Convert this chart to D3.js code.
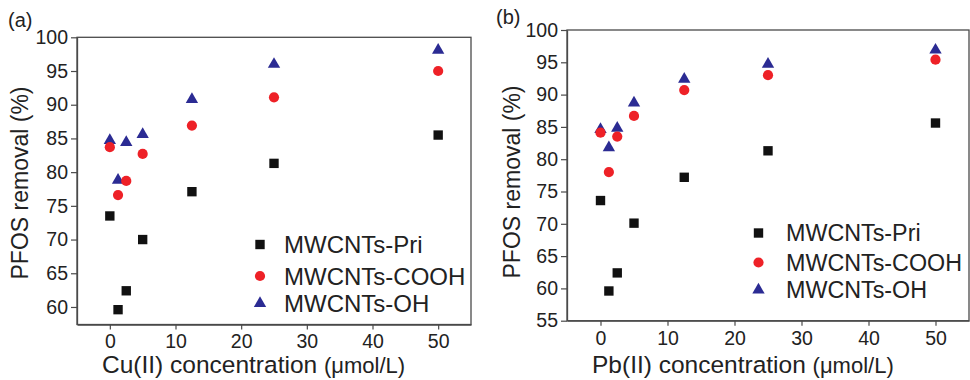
<!DOCTYPE html>
<html>
<head>
<meta charset="utf-8">
<script src="https://cdn.jsdelivr.net/npm/d3@7"></script>
<style>
  html, body { margin: 0; padding: 0; background: #fff; }
  svg { display: block; font-family: "Liberation Sans", Arial, sans-serif; }
</style>
</head>
<body>
<svg id="chart" width="970" height="380"></svg>
<script>
// ---- data ----
const concentrations = [0, 1.25, 2.5, 5, 12.5, 25, 50];
const seriesNames = ["MWCNTs-Pri", "MWCNTs-COOH", "MWCNTs-OH"];

const cuPri  = [73.5, 59.6, 62.4, 70.0, 77.1, 81.3, 85.5];
const cuCOOH = [83.7, 76.6, 78.7, 82.7, 86.9, 91.1, 95.0];
const cuOH   = [84.7, 78.8, 84.4, 85.6, 90.8, 96.0, 98.1];

const pbPri  = [73.6, 59.6, 62.4, 70.1, 77.2, 81.3, 85.6];
const pbCOOH = [84.1, 78.0, 83.5, 86.7, 90.7, 93.0, 95.4];
const pbOH   = [84.6, 81.8, 84.8, 88.7, 92.4, 94.7, 96.9];

const xTicks  = [0, 10, 20, 30, 40, 50];
const yTicksA = [60, 65, 70, 75, 80, 85, 90, 95, 100];
const yTicksB = [55, 60, 65, 70, 75, 80, 85, 90, 95, 100];

// ---- styles ----
const colors = { "MWCNTs-Pri": "#111111", "MWCNTs-COOH": "#ee2127", "MWCNTs-OH": "#2b2b93" };
const symbols = { "MWCNTs-Pri": d3.symbolSquare, "MWCNTs-COOH": d3.symbolCircle, "MWCNTs-OH": d3.symbolTriangle };
const sizes = { "MWCNTs-Pri": 88, "MWCNTs-COOH": 82, "MWCNTs-OH": 66 };
const axisColor = "#4a4a4a";

const svg = d3.select("#chart");

const panels = [
  {
    label: "(a)", labelX: 8, labelY: 27,
    left: 77, right: 471, top: 37.3, bottom: 324.5,
    yDomain: [57.4, 100], yTicks: yTicksA,
    series: { "MWCNTs-Pri": cuPri, "MWCNTs-COOH": cuCOOH, "MWCNTs-OH": cuOH },
    xTitle: "Cu(II) concentration ", xTitleX: 102, yTitleX: 28, yTitleY: 183,
    legendX: 260, legendText: 284, legendY: [244.5, 276, 303.5], legendFont: 24
  },
  {
    label: "(b)", labelX: 496, labelY: 24,
    left: 567, right: 969, top: 30, bottom: 320.7,
    yDomain: [55, 100], yTicks: yTicksB,
    series: { "MWCNTs-Pri": pbPri, "MWCNTs-COOH": pbCOOH, "MWCNTs-OH": pbOH },
    xTitle: "Pb(II) concentration ", xTitleX: 592, yTitleX: 520, yTitleY: 182,
    legendX: 758.5, legendText: 786, legendY: [233, 262.5, 290], legendFont: 23.3
  }
];

panels.forEach(p => {
  const x = d3.scaleLinear().domain([-5, 55]).range([p.left, p.right]);
  const y = d3.scaleLinear().domain(p.yDomain).range([p.bottom, p.top]);
  const g = svg.append("g");

  // frame (top & right)
  g.append("rect")
    .attr("x", p.left).attr("y", p.top)
    .attr("width", p.right - p.left).attr("height", p.bottom - p.top)
    .attr("fill", "none").attr("stroke", axisColor).attr("stroke-width", 1.3);

  // axes
  const xAxis = g.append("g")
    .attr("transform", `translate(0,${p.bottom})`)
    .call(d3.axisBottom(x).tickValues(xTicks).tickSize(5).tickPadding(5).tickSizeOuter(0));
  const yAxis = g.append("g")
    .attr("transform", `translate(${p.left},0)`)
    .call(d3.axisLeft(y).tickValues(p.yTicks).tickSize(6).tickPadding(3).tickSizeOuter(0));
  [xAxis, yAxis].forEach(a => {
    a.select(".domain").attr("stroke", axisColor).attr("stroke-width", 1.3);
    a.selectAll(".tick line").attr("stroke", axisColor).attr("stroke-width", 1.2);
    a.selectAll(".tick text").attr("fill", "#222").style("font-size", "19.5px")
      .style("font-family", '"Liberation Sans", Arial, sans-serif');
  });

  // points (draw OH first, COOH over it, Pri last)
  ["MWCNTs-OH", "MWCNTs-COOH", "MWCNTs-Pri"].forEach(name => {
    const vals = p.series[name];
    g.append("g").selectAll("path")
      .data(concentrations.map((c, i) => ({ c, v: vals[i] })))
      .join("path")
      .attr("transform", d => `translate(${x(d.c)},${y(d.v)})`)
      .attr("d", d3.symbol().type(symbols[name]).size(sizes[name]))
      .attr("fill", colors[name]);
  });

  // legend
  seriesNames.forEach((name, i) => {
    g.append("path")
      .attr("transform", `translate(${p.legendX},${p.legendY[i]})`)
      .attr("d", d3.symbol().type(symbols[name]).size(sizes[name]))
      .attr("fill", colors[name]);
    g.append("text")
      .attr("x", p.legendText).attr("y", p.legendY[i])
      .attr("dy", "0.36em")
      .style("font-size", p.legendFont + "px").attr("fill", "#222")
      .text(name);
  });

  // panel label
  g.append("text")
    .attr("x", p.labelX).attr("y", p.labelY)
    .style("font-size", "20px").attr("fill", "#222")
    .text(p.label);

  // x title
  const xt = g.append("text")
    .attr("x", p.xTitleX).attr("y", 373)
    .style("font-size", "24.5px").attr("fill", "#222");
  xt.append("tspan").text(p.xTitle);
  xt.append("tspan").style("font-size", "22px").text("(\u03BCmol/L)");

  // y title
  g.append("text")
    .attr("transform", `translate(${p.yTitleX},${p.yTitleY}) rotate(-90)`)
    .attr("text-anchor", "middle")
    .style("font-size", "23px").attr("fill", "#222")
    .text("PFOS removal (%)");
});
</script>
</body>
</html>
